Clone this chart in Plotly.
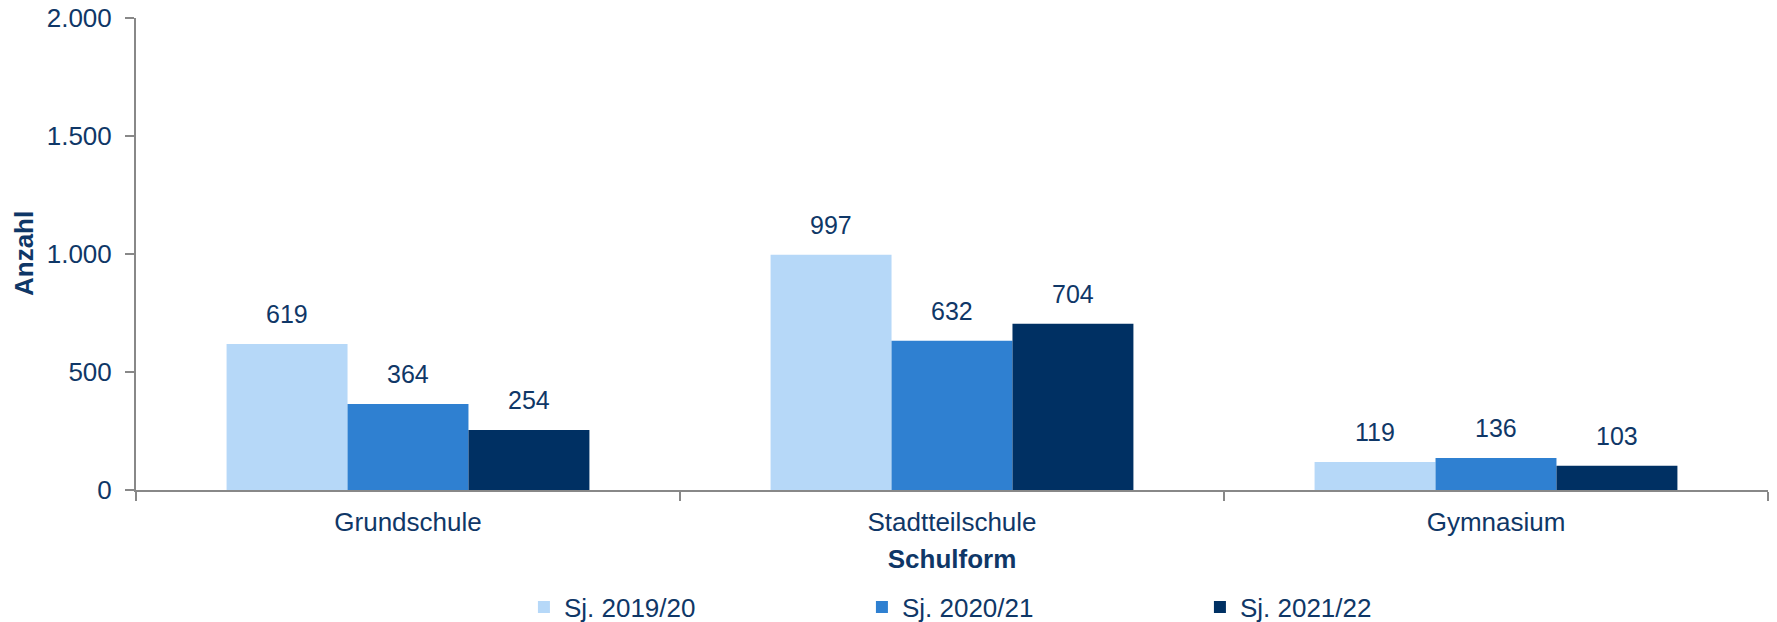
import plotly.graph_objects as go

categories = ["Grundschule", "Stadtteilschule", "Gymnasium"]
series_names = ["Sj. 2019/20", "Sj. 2020/21", "Sj. 2021/22"]
values_2019 = [619, 997, 119]
values_2020 = [364, 632, 136]
values_2021 = [254, 704, 103]
colors = ["#b6d8f8", "#2f80d1", "#003063"]
y_ticks = [0, 500, 1000, 1500, 2000]
y_tick_labels = ["0", "500", "1.000", "1.500", "2.000"]
y_title = "Anzahl"
x_title = "Schulform"

TEXT = "#0f3767"
FONT = "Liberation Sans, Arial, sans-serif"
AXIS = "#888888"

all_values = [values_2019, values_2020, values_2021]

fig = go.Figure()
for name, vals, col in zip(series_names, all_values, colors):
    fig.add_trace(go.Bar(
        x=categories, y=vals, name=name,
        marker=dict(color=col, line=dict(width=0)),
        hoverinfo="x+y+name",
    ))

bar_px = 121
annotations = []
for i, vals in enumerate(all_values):
    for cat, v in zip(categories, vals):
        annotations.append(dict(
            x=cat, y=v, xref="x", yref="y",
            text=f"{v:,}".replace(",", "."),
            showarrow=False, yanchor="bottom",
            xshift=(i - 1) * bar_px, yshift=14,
            font=dict(family=FONT, size=25, color=TEXT),
        ))

# y-axis title
annotations.append(dict(
    x=0, y=0.5, xref="paper", yref="paper", xanchor="center", yanchor="middle",
    xshift=-112, text=f"<b>{y_title}</b>", textangle=-90, showarrow=False,
    font=dict(family=FONT, size=26, color=TEXT),
))

fig.update_layout(
    width=1777, height=622,
    margin=dict(l=136, r=9, t=18, b=132, autoexpand=False),
    paper_bgcolor="white", plot_bgcolor="white",
    barmode="group", bargap=0.333, bargroupgap=0,
    font=dict(family=FONT, size=26, color=TEXT),
    annotations=annotations,
    showlegend=True,
    legend=dict(
        orientation="h", x=0.2377, xanchor="left", y=-0.248, yanchor="middle",
        font=dict(family=FONT, size=26, color=TEXT),
        entrywidth=293, entrywidthmode="pixels",
        itemclick=False, itemdoubleclick=False,
    ),
    xaxis=dict(
        automargin=False,
        showline=True, linecolor=AXIS, linewidth=2,
        ticks="outside", tickson="boundaries", ticklen=9, tickwidth=2, tickcolor=AXIS,
        tickfont=dict(family=FONT, size=26, color=TEXT),
        ticklabelstandoff=8,
        title=dict(text=f"<b>{x_title}</b>", font=dict(family=FONT, size=26, color=TEXT), standoff=14),
        showgrid=False, zeroline=False,
    ),
    yaxis=dict(
        automargin=False,
        range=[0, 2000], tickvals=y_ticks, ticktext=y_tick_labels,
        showline=True, linecolor=AXIS, linewidth=2,
        ticks="outside", ticklen=9, tickwidth=2, tickcolor=AXIS,
        tickfont=dict(family=FONT, size=26, color=TEXT),
        ticklabelstandoff=8,
        showgrid=False, zeroline=False,
    ),
)

# remove the browser's default 8px body margin so the figure fills the window exactly
fig.write_html(
    "out.html",
    config={"displayModeBar": False},
    post_script="document.body.style.margin='0';",
)
